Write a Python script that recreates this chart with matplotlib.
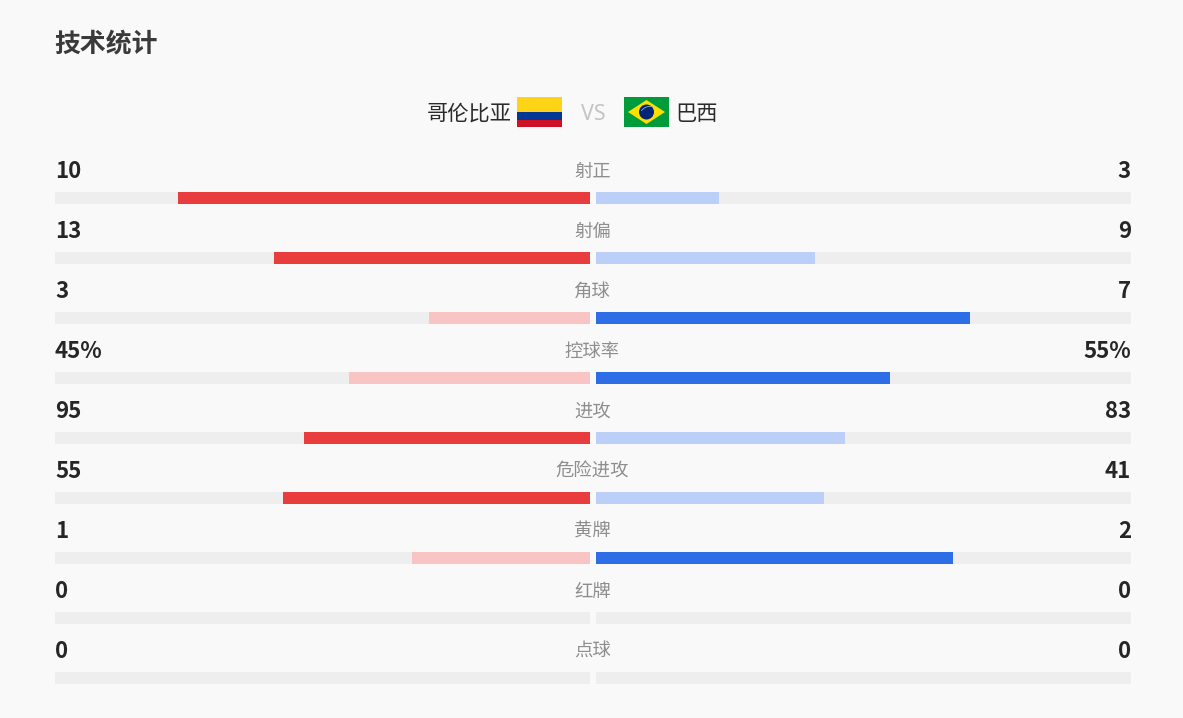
"""
Match statistics panel: Colombia vs Brazil.
"""

import matplotlib
matplotlib.use('Agg')
import matplotlib.pyplot as plt
from matplotlib.patches import Rectangle, Polygon, Circle, Wedge

plt.rcParams['font.family'] = ['Noto Sans CJK SC', 'DejaVu Sans']

# chart values
stat_names = ['射正', '射偏', '角球', '控球率', '进攻', '危险进攻', '黄牌', '红牌', '点球']
home_values = [10, 13, 3, 45, 95, 55, 1, 0, 0]
away_values = [3, 9, 7, 55, 83, 41, 2, 0, 0]
home_labels = ['10', '13', '3', '45%', '95', '55', '1', '0', '0']
away_labels = ['3', '9', '7', '55%', '83', '41', '2', '0', '0']
home_name = '哥伦比亚'
away_name = '巴西'

BG = '#F9F9F9'
TRACK = '#EEEEEE'
RED, RED_LIGHT = '#E93D3D', '#F8C4C4'
BLUE, BLUE_LIGHT = '#2D6EE6', '#BBCFF8'

W, H = 1183, 718
LEFT_END, LEFT_START = 55, 590
RIGHT_START, RIGHT_END = 596, 1131
TRACK_W = LEFT_START - LEFT_END
ROW0, ROW_STEP, BAR_H = 198, 60, 12

fig = plt.figure(figsize=(W / 100, H / 100), dpi=100, facecolor=BG)
ax = fig.add_axes([0, 0, 1, 1])
ax.set_xlim(0, W)
ax.set_ylim(H, 0)
ax.axis('off')

ax.text(54, 52.5, '技术统计', fontsize=18.6, fontweight='bold', color='#3A3A3A',
        ha='left', va='baseline')

# header with the two flags
ax.text(511.5, 120, home_name, fontsize=15.3, color='#2B2B2B', ha='right', va='baseline')
ax.text(593, 120, 'VS', fontsize=15.5, color='#C4C4C4', ha='center', va='baseline',
        family=['Noto Sans', 'DejaVu Sans'])
ax.text(675, 120, away_name, fontsize=15.3, color='#2B2B2B', ha='left', va='baseline')

ax.add_patch(Rectangle((517, 97), 45, 15, fc='#FFD316', lw=0))
ax.add_patch(Rectangle((517, 112), 45, 7.5, fc='#003893', lw=0))
ax.add_patch(Rectangle((517, 119.5), 45, 7.5, fc='#CE1126', lw=0))

ax.add_patch(Rectangle((624, 97), 45, 30, fc='#009B3A', lw=0))
ax.add_patch(Polygon([(628, 112), (646.5, 100), (665, 112), (646.5, 124)], fc='#FEDF00', lw=0))
ax.add_patch(Circle((646.5, 112), 7.5, fc='#002776', lw=0))
ax.add_patch(Wedge((650, 117), 11, 215, 285, width=0.8, fc='#9FB0BC', lw=0))

for i, name in enumerate(stat_names):
    y = ROW0 + i * ROW_STEP
    total = home_values[i] + away_values[i]
    home_share = home_values[i] / total if total else 0
    away_share = away_values[i] / total if total else 0
    home_color = RED if home_values[i] >= away_values[i] else RED_LIGHT
    away_color = BLUE if away_values[i] > home_values[i] else BLUE_LIGHT

    # grey tracks
    ax.barh(y, TRACK_W, left=LEFT_END, height=BAR_H, color=TRACK)
    ax.barh(y, TRACK_W, left=RIGHT_START, height=BAR_H, color=TRACK)
    # left bar grows from the centre outwards
    ax.barh(y, home_share * TRACK_W, left=LEFT_START - home_share * TRACK_W,
            height=BAR_H, color=home_color)
    ax.barh(y, away_share * TRACK_W, left=RIGHT_START, height=BAR_H, color=away_color)

    ax.text(LEFT_END, y - 20.5, home_labels[i], fontsize=16, fontweight='bold',
            color='#262626', ha='left', va='baseline')
    ax.text(RIGHT_END, y - 20.5, away_labels[i], fontsize=16, fontweight='bold',
            color='#262626', ha='right', va='baseline')
    ax.text(592.5, y - 21.5, name, fontsize=13.2, color='#8E8E8E', ha='center', va='baseline')

ax.set_xlim(0, W)
ax.set_ylim(H, 0)
fig.savefig('out.png', dpi=100, facecolor=BG)
